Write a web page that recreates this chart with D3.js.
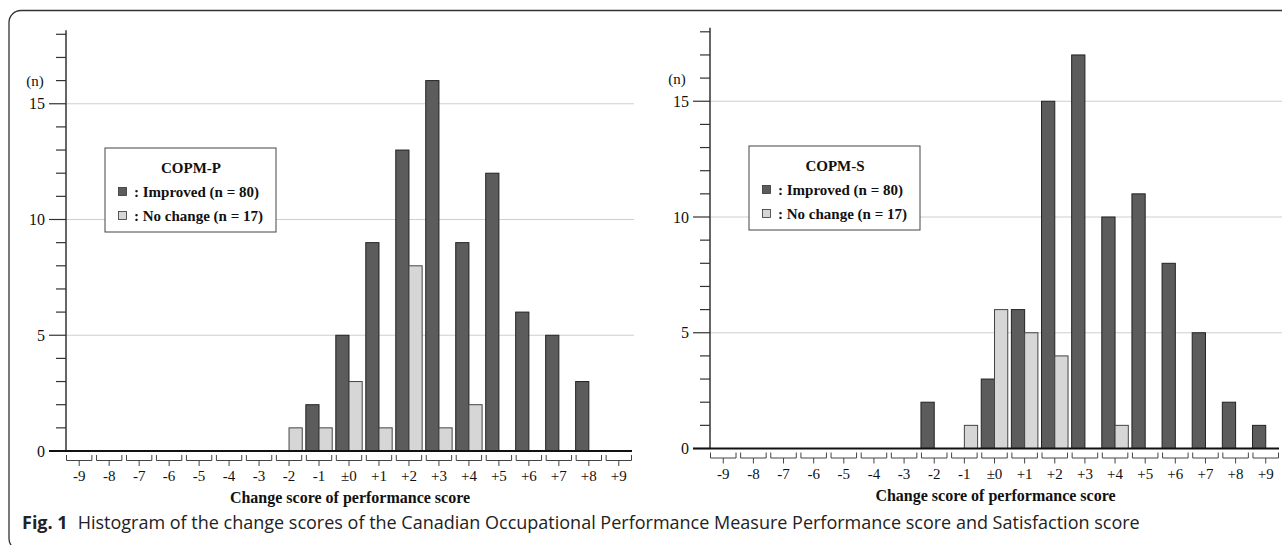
<!DOCTYPE html>
<html>
<head>
  <meta charset="utf-8">
  <script src="https://d3js.org/d3.v7.min.js"></script>
  <style>
    body { margin: 0; background: #fff; }
    svg { display: block; }
    .serif { font-family: "Liberation Serif", "Times New Roman", serif; fill: #111; }
    .caption { font-family: "Open Sans", "Noto Sans", sans-serif; fill: #222; }
  </style>
</head>
<body>
  <svg id="chart" width="1282" height="545"></svg>
  <script>
    // Categorías del eje x (cambio de puntuación)
    const categories = ["-9", "-8", "-7", "-6", "-5", "-4", "-3", "-2", "-1", "±0",
                        "+1", "+2", "+3", "+4", "+5", "+6", "+7", "+8", "+9"];

    // COPM-P (desempeño)
    const perfImproved = [0, 0, 0, 0, 0, 0, 0, 0, 2, 5, 9, 13, 16, 9, 12, 6, 5, 3, 0];
    const perfNoChange = [0, 0, 0, 0, 0, 0, 0, 1, 1, 3, 1, 8, 1, 2, 0, 0, 0, 0, 0];

    // COPM-S (satisfacción)
    const satImproved = [0, 0, 0, 0, 0, 0, 0, 2, 0, 3, 6, 15, 17, 10, 11, 8, 5, 2, 1];
    const satNoChange = [0, 0, 0, 0, 0, 0, 0, 0, 1, 6, 5, 4, 0, 1, 0, 0, 0, 0, 0];

    const seriesNames = [": Improved (n = 80)", ": No change (n = 17)"];
    const seriesColors = ["#5c5c5c", "#d6d6d6"];
    const labeledTicks = [0, 5, 10, 15];
    const gridTicks = [5, 10, 15];
    const yMax = 18;

    const xTitle = "Change score of performance score";

    const svg = d3.select("#chart");

    // marco redondeado (solo se ven el borde superior e izquierdo)
    svg.append("rect")
      .attr("x", 9).attr("y", 10.5)
      .attr("width", 1400).attr("height", 540)
      .attr("rx", 12)
      .attr("fill", "none")
      .attr("stroke", "#333")
      .attr("stroke-width", 1.3);

    const panels = [
      { title: "COPM-P", improved: perfImproved, noChange: perfNoChange,
        x0: 66, x1: 632, gridEnd: 634, y0: 451, legendX: 105, legendY: 148, nX: 35 },
      { title: "COPM-S", improved: satImproved, noChange: satNoChange,
        x0: 710, x1: 1279, gridEnd: 1282, y0: 448.5, legendX: 749, legendY: 146, nX: 677 }
    ];

    panels.forEach(p => {
      const g = svg.append("g");
      const unit = 23.15;

      const x = d3.scaleBand()
        .domain(categories)
        .range([p.x0, p.x1])
        .paddingInner(0.12)
        .paddingOuter(0);

      const xSub = d3.scaleBand()
        .domain([0, 1])
        .range([0, x.bandwidth()]);

      const y = d3.scaleLinear()
        .domain([0, yMax])
        .range([p.y0, p.y0 - yMax * unit]);

      // líneas de cuadrícula
      g.selectAll(".grid")
        .data(gridTicks)
        .join("line")
        .attr("x1", p.x0).attr("x2", p.gridEnd)
        .attr("y1", d => y(d)).attr("y2", d => y(d))
        .attr("stroke", "#cfcfcf")
        .attr("stroke-width", 1);

      // eje y con marcas menores y mayores
      g.append("line")
        .attr("x1", p.x0).attr("x2", p.x0)
        .attr("y1", y(yMax) - 4).attr("y2", y(0))
        .attr("stroke", "#333").attr("stroke-width", 1.5);

      g.selectAll(".ytick")
        .data(y.ticks(yMax))
        .join("line")
        .attr("x1", d => labeledTicks.includes(d) ? p.x0 - 17 : p.x0 - 10)
        .attr("x2", p.x0)
        .attr("y1", d => y(d)).attr("y2", d => y(d))
        .attr("stroke", "#333").attr("stroke-width", 1.2);

      g.selectAll(".ylabel")
        .data(labeledTicks)
        .join("text")
        .attr("class", "serif")
        .attr("x", p.x0 - 21)
        .attr("y", d => y(d) + 5.5)
        .attr("text-anchor", "end")
        .attr("font-size", 16)
        .text(d => d);

      g.append("text")
        .attr("class", "serif")
        .attr("x", p.nX)
        .attr("y", y(16) + 5.5)
        .attr("text-anchor", "middle")
        .attr("font-size", 15)
        .text("(n)");

      // barras
      const groups = g.selectAll(".bin")
        .data(categories.map((c, i) => ({ c, vals: [p.improved[i], p.noChange[i]] })))
        .join("g")
        .attr("transform", d => `translate(${x(d.c)},0)`);

      groups.selectAll("rect")
        .data(d => d.vals.map((v, k) => ({ v, k })))
        .join("rect")
        .attr("x", d => xSub(d.k))
        .attr("width", xSub.bandwidth())
        .attr("y", d => y(d.v))
        .attr("height", d => y(0) - y(d.v))
        .attr("fill", d => seriesColors[d.k])
        .attr("stroke", d => d.v === 0 ? "#111" : (d.k === 0 ? "#222" : "#444"))
        .attr("stroke-width", d => d.v === 0 ? 3 : 1);

      // línea base
      g.append("line")
        .attr("x1", p.x0 - 17).attr("x2", p.x1)
        .attr("y1", y(0)).attr("y2", y(0))
        .attr("stroke", "#111").attr("stroke-width", 2);

      // corchetes bajo cada categoría
      const base = y(0);
      groups.append("path")
        .attr("d", `M0.5,${base + 4}V${base + 9.5}H${x.bandwidth() - 0.5}V${base + 4}` +
                   `M${x.bandwidth() / 2},${base + 9.5}V${base + 15}`)
        .attr("fill", "none")
        .attr("stroke", "#444")
        .attr("stroke-width", 1);

      groups.append("text")
        .attr("class", "serif")
        .attr("x", x.bandwidth() / 2)
        .attr("y", base + 30)
        .attr("text-anchor", "middle")
        .attr("font-size", 15)
        .text(d => d.c);

      g.append("text")
        .attr("class", "serif")
        .attr("x", (p.x0 + p.x1) / 2 + 1)
        .attr("y", base + 52)
        .attr("text-anchor", "middle")
        .attr("font-size", 16)
        .attr("font-weight", "bold")
        .text(xTitle);

      // leyenda
      const lg = g.append("g").attr("transform", `translate(${p.legendX},${p.legendY})`);
      lg.append("rect")
        .attr("width", 171).attr("height", 84)
        .attr("fill", "#fff")
        .attr("stroke", "#444").attr("stroke-width", 1);
      lg.append("text")
        .attr("class", "serif")
        .attr("x", 86).attr("y", 25)
        .attr("text-anchor", "middle")
        .attr("font-size", 15)
        .attr("font-weight", "bold")
        .text(p.title);
      seriesNames.forEach((name, k) => {
        lg.append("rect")
          .attr("x", 13.5).attr("y", 39.5 + k * 24)
          .attr("width", 8).attr("height", 8)
          .attr("fill", seriesColors[k])
          .attr("stroke", "#333").attr("stroke-width", 0.8);
        lg.append("text")
          .attr("class", "serif")
          .attr("x", 29).attr("y", 49 + k * 24)
          .attr("font-size", 15)
          .attr("font-weight", "bold")
          .text(name);
      });
    });

    // pie de figura
    const cap = svg.append("text")
      .attr("class", "caption")
      .attr("x", 22).attr("y", 529)
      .attr("font-size", 18);
    cap.append("tspan").attr("font-weight", "bold").text("Fig. 1");
    cap.append("tspan").attr("dx", 10)
      .text("Histogram of the change scores of the Canadian Occupational Performance Measure Performance score and Satisfaction score");
  </script>
</body>
</html>
